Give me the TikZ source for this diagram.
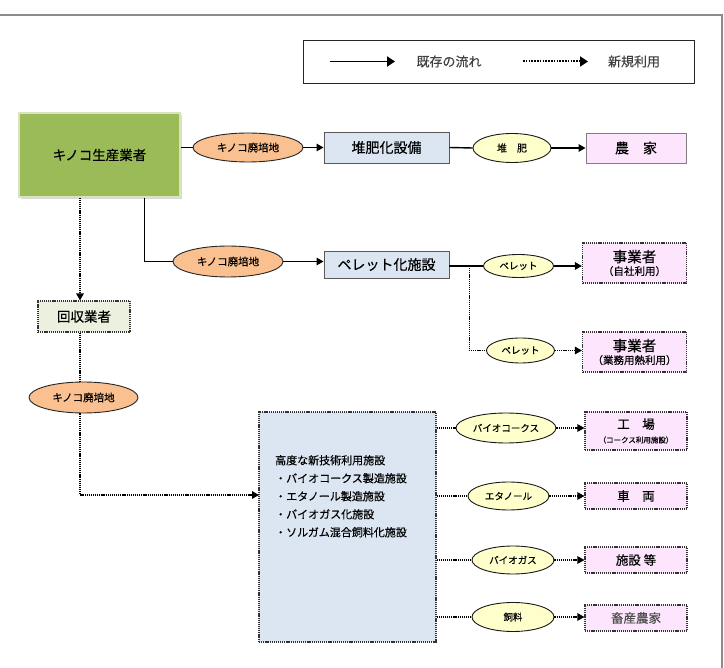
\documentclass[tikz,border=0pt]{standalone}
\usepackage{fontspec}
\setmainfont{Noto Sans CJK JP}[FakeBold=0.4]
\usetikzlibrary{arrows.meta,shadows,shapes.geometric,calc}
\definecolor{grn}{HTML}{9BBB59}
\definecolor{grnb}{HTML}{D7E4BD}
\definecolor{org}{HTML}{FAC090}
\definecolor{blu}{HTML}{DCE6F2}
\definecolor{yel}{HTML}{FFFFCC}
\definecolor{pnk}{HTML}{FDE6FD}
\definecolor{lgr}{HTML}{EBF1DE}
\definecolor{frm}{HTML}{8C8C8C}
\definecolor{bdr}{HTML}{595959}
\newcommand{\fs}[1]{\fontsize{#1}{#1}\selectfont}
\begin{document}
\begin{tikzpicture}[x=1pt,y=-1pt,
  solidline/.style={line width=1.4pt,black},
  dotline/.style={line width=1.3pt,black,dash pattern=on 1.2pt off 0.9pt},
  tip/.style={-{Triangle[length=7pt,width=7.5pt]}},
  bluebox/.style={draw=bdr,fill=blu,line width=0.9pt,inner sep=0pt,align=center},
  pinkbox/.style={draw=bdr,fill=pnk,line width=0.9pt,inner sep=0pt,align=center},
  pinkdot/.style={pinkbox,draw=black!80,dash pattern=on 1.2pt off 0.9pt,line width=1.1pt},
  orell/.style={ellipse,draw=black!85,fill=org,line width=0.9pt,inner sep=0pt},
  yelell/.style={ellipse,draw=black!90,fill=yel,line width=0.9pt,inner sep=0pt},
]
\useasboundingbox (0,0) rectangle (724,668);
% outer frame
\draw[frm,line width=2pt] (0,15) -- (722,15) -- (722,670);

% legend
\node[draw=black!85,line width=0.9pt,minimum width=391pt,minimum height=43pt,inner sep=0pt] (legend) at (498.5,61.5) {};
\coordinate (la1) at (330,61.5);
\coordinate (la2) at (395,61.5);
\coordinate (lb1) at (523,61.5);
\coordinate (lb2) at (588,61.5);
\draw[solidline,line width=1.8pt,-{Triangle[length=8pt,width=10pt]}] (la1) -- (la2);
\draw[line width=2pt,black,dash pattern=on 1.6pt off 1.2pt,-{Triangle[length=8pt,width=10pt]}] (lb1) -- (lb2);
\node[text=black!75,font=\fs{13}] (lt1) at (449,61.5) {既存の流れ};
\node[text=black!75,font=\fs{13}] (lt2) at (634,61.5) {新規利用};

% grower
\node[fill=grn,draw=grnb,line width=1.5pt,minimum width=161pt,minimum height=84pt,inner sep=0pt,
      drop shadow={shadow xshift=2pt,shadow yshift=-2pt,fill=black!30},font=\fs{13.5}] (grower) at (99.5,155) {キノコ生産業者};

% row 1
\node[orell,minimum width=110pt,minimum height=29pt,font=\fs{10.5}] (e1) at (248,147.5) {キノコ廃培地};
\node[bluebox,minimum width=125pt,minimum height=31pt,font=\fs{14}] (compost) at (386.5,147.5) {堆肥化設備};
\node[yelell,minimum width=78pt,minimum height=29pt,font=\fs{10}] (etaihi) at (512,148) {堆　肥};
\node[pinkbox,draw=black!50,minimum width=100pt,minimum height=30pt,font=\fs{14}] (farmer) at (636,148) {農　家};

% row 2
\node[orell,minimum width=110pt,minimum height=31pt,font=\fs{10.5}] (e2) at (228,261.5) {キノコ廃培地};
\node[bluebox,minimum width=125pt,minimum height=27pt,font=\fs{14}] (pellet) at (386.5,264.5) {ペレット化施設};
\node[yelell,minimum width=70pt,minimum height=23pt,font=\fs{9.5}] (ep1) at (518.5,266) {ペレット};
\node[pinkdot,minimum width=104pt,minimum height=40pt] (biz1) at (634.5,263) {{\fs{14.5}事業者}\\[1pt]{\fs{10.5}（自社利用）}};

% row 3
\node[yelell,minimum width=68pt,minimum height=25pt,font=\fs{9.5}] (ep2) at (520.5,350.5) {ペレット};
\node[pinkdot,minimum width=104pt,minimum height=40pt] (biz2) at (634.5,352) {{\fs{14.5}事業者}\\[1pt]{\fs{10.5}（業務用熱利用）}};

% collector
\node[fill=lgr,draw=black!80,dash pattern=on 1.2pt off 0.9pt,line width=1.1pt,minimum width=92pt,minimum height=31pt,inner sep=0pt,font=\fs{13.5}] (collector) at (84,316.5) {回収業者};
\node[orell,minimum width=109pt,minimum height=31pt,font=\fs{10.5}] (e3) at (83.5,397.5) {キノコ廃培地};

% advanced facility
\node[fill=blu,draw=black!80,dash pattern=on 1.2pt off 0.9pt,line width=1.1pt,minimum width=177pt,minimum height=230pt,inner sep=0pt] (adv) at (347.5,527) {};
\node[anchor=north west,align=left,inner sep=0pt,font=\fontsize{11}{18}\selectfont] (advtxt) at (275,455) {高度な新技術利用施設\\・バイオコークス製造施設\\・エタノール製造施設\\・バイオガス化施設\\・ソルガム混合飼料化施設};

% right column
\node[yelell,minimum width=100pt,minimum height=30pt,font=\fs{9.5}] (ecoke) at (506,428) {バイオコークス};
\node[pinkdot,minimum width=102pt,minimum height=38pt] (factory) at (636,431) {{\fs{12.5}工　場}\\[2pt]{\fs{7.5}（コークス利用施設）}};
\node[yelell,minimum width=81pt,minimum height=28pt,font=\fs{9.5}] (eeth) at (508.5,496) {エタノール};
\node[pinkdot,minimum width=102pt,minimum height=26pt,font=\fs{12.5}] (vehicle) at (636,496) {車　両};
\node[yelell,minimum width=82pt,minimum height=28pt,font=\fs{9.5}] (egas) at (513,560) {バイオガス};
\node[pinkdot,minimum width=102pt,minimum height=26pt,font=\fs{12.5}] (facil) at (636,560) {施設 等};
\node[yelell,minimum width=82pt,minimum height=29pt,font=\fs{9.5}] (efeed) at (513,617) {飼料};
\node[pinkdot,minimum width=102pt,minimum height=26pt,font=\fs{12.5},text=black!70] (live) at (636,618) {畜産農家};

% solid connectors
\draw[solidline] (e1.west -| grower.east) -- (e1.west);
\draw[solidline,tip] (e1.east) -- (compost.west);
\draw[solidline] (compost.east) -- (etaihi.west);
\draw[solidline,tip] (etaihi.east) -- (farmer.west);
\draw[solidline] ([xshift=45pt]grower.south) |- (e2.west);
\draw[solidline,tip] (e2.east) -- (pellet.west |- e2.east);
\draw[solidline] (pellet.east |- ep1.west) -- (ep1.west);
\draw[solidline,tip] (ep1.east) -- (biz1.west |- ep1.east);

% dotted connectors
\coordinate (jn) at ($(pellet.east |- ep1.west)+(20,0)$);
\draw[dotline] (jn) |- (ep2.west);
\draw[dotline,tip] (ep2.east) -- (biz2.west |- ep2.east);
\coordinate (vx) at (80,0);
\draw[dotline,tip] (grower.south -| vx) -- (collector.north -| vx);
\draw[dotline] (collector.south -| vx) -- (e3.north -| vx);
\coordinate (advin) at (259,495);
\draw[dotline,tip] (e3.south -| vx) |- (advin);
\draw[dotline] (ecoke.west -| adv.east) -- (ecoke.west);
\draw[dotline,tip] (ecoke.east) -- (factory.west |- ecoke.east);
\draw[dotline] (eeth.west -| adv.east) -- (eeth.west);
\draw[dotline,tip] (eeth.east) -- (vehicle.west |- eeth.east);
\draw[dotline] (egas.west -| adv.east) -- (egas.west);
\draw[dotline,tip] (egas.east) -- (facil.west |- egas.east);
\draw[dotline] (efeed.west -| adv.east) -- (efeed.west);
\draw[dotline,tip] (efeed.east) -- (live.west |- efeed.east);
\end{tikzpicture}
\end{document}
